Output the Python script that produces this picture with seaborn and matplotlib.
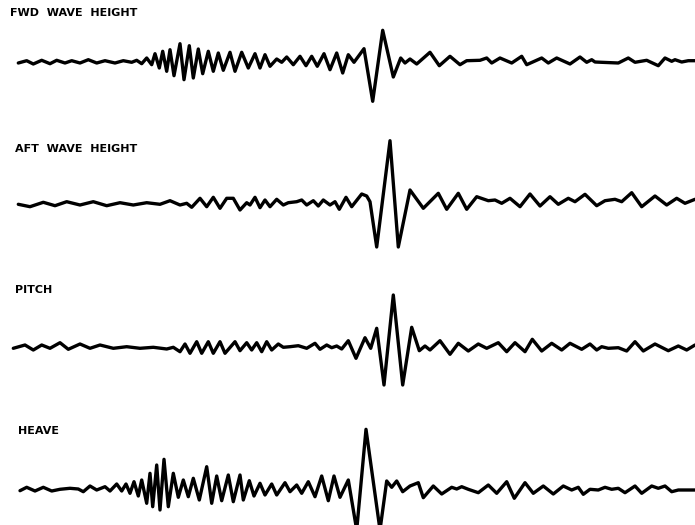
import matplotlib
matplotlib.use("Agg")
import matplotlib.pyplot as plt
import seaborn as sns

# time axis (record position) and trace amplitude at each turning point
fwd_t = [18.3, 26.7, 33.3, 41.7, 50, 56.7, 65, 71.7, 80, 88.3, 96.7, 105, 115, 123.3, 131.7,
         136.7, 141.7, 146.7, 151.7, 155, 159.3, 162.7, 166.7, 170, 174, 180, 184, 189.3,
         193.3, 198.3, 202.7, 208.3, 213.3, 218.3, 223.3, 230, 235, 241.7, 248.3, 255, 260,
         265, 270, 276.7, 281.7, 286.7, 293.3, 300, 306, 311.7, 317.3, 324, 330, 336.7,
         342.7, 348.3, 354, 364, 372.7, 382.7, 393.3, 400.7, 405, 410, 416.7, 430, 439.3,
         450, 460, 466.7, 480, 486.7, 491.7, 500, 511.7, 521.7, 526.7, 541.7, 548.3, 556.7,
         570, 580, 586.7, 591.7, 595, 601.7, 618.3, 628.3, 635, 646.7, 658.3, 665, 671.7,
         675, 681.7, 688.3, 695]
fwd_amp = [0, 2.3, -1, 2.7, -0.7, 2.7, 0, 2.3, 0, 3.3, 0, 2.3, 0, 2.3, 0.7,
           2.7, -0.7, 5, -1.7, 9.3, -5, 11.7, -8.3, 13.3, -12.7, 19.3, -16.7, 17.3,
           -15, 14, -10.7, 11.7, -8.3, 10, -7.3, 10.7, -8.3, 10.7, -5, 9.3, -5,
           8.3, -3.3, 4, 0.7, 6, -1.7, 6.7, -2.7, 6.7, -3.3, 9.3, -6.7, 10,
           -10, 8.3, 0.7, 14.3, -38.3, 32.7, -14, 5, 0, 4, -1, 10.7, -2.7,
           6.7, -1.7, 2.3, 2.7, 5, 0, 5, 0, 6.7, -1.7, 5, 0, 5,
           -1, 6, 0.7, 3.3, 1, 0.7, 0, 5, 0.7, 2.7, -2.7, 5, 1.7,
           3.3, 1, 2.3, 2.3]

aft_t = [18.3, 30, 43.3, 55, 66.7, 80, 93.3, 106.7, 120, 133.3, 146.7, 160, 170, 180,
         186.7, 191.7, 200, 206.7, 213.3, 220, 226.7, 233.3, 240, 246.7, 250, 255, 260,
         265, 270, 276.7, 283.3, 288.3, 296.7, 301.7, 306.7, 313.3, 318.3, 323.3, 330, 335,
         339.3, 346, 351.7, 361.7, 366.7, 370, 376.7, 390, 398.3, 410, 423.3, 438.3, 446.7,
         458.3, 466.7, 476.7, 488.3, 495, 501.7, 510, 520, 530, 540, 550, 558.3, 568.3,
         575, 585, 596.7, 605, 615, 621.7, 631.7, 641.7, 655, 666.7, 676.7, 685, 695]
aft_amp = [0.7, -1.7, 2.7, -0.7, 3.3, 0, 3.3, -0.7, 2.3, 0, 2.3, 0.7, 4.3, 0,
           1.7, -2.3, 6.7, -1.7, 7.7, -3.3, 6.7, 6.7, -5, 2.3, 0, 7.7, -2.7,
           5, -1.7, 5.7, 0, 2.3, 3.3, 5, 0, 4.3, -1, 5, 0, 3.3,
           -4.3, 7.7, -1.7, 11, 9, 3.3, -42, 64.3, -42, 15, -3.3, 11.7, -4.3,
           11.7, -4.3, 8.3, 4.3, 5, 1.7, 6.7, -1.7, 11, -1, 8.3, 0.7, 6.7,
           3.3, 10.7, -0.7, 4.3, 5.7, 3.3, 12.3, -1.7, 9, 0, 6.7, 1.7, 5.7]

pitch_t = [13.3, 25, 33.3, 41.7, 50, 60, 68.3, 80, 90, 100, 113.3, 126.7, 140, 153.3,
           166.7, 173.3, 180, 185, 190, 196.7, 201.7, 208.3, 213.3, 220, 225, 235, 240,
           246.7, 251.7, 256.7, 261.7, 266.7, 271.7, 278.3, 283.3, 290, 298.3, 306.7, 315,
           320, 326.7, 331.7, 336.7, 341.7, 348.3, 356, 365, 370.7, 376.7, 384, 393.3,
           402.7, 411.7, 419.3, 425, 430, 440, 450, 458.3, 468.3, 478.3, 486.7, 498.3,
           506.7, 515, 525, 532.3, 541.7, 551.7, 561.7, 570, 581.7, 590, 596.7, 601.7,
           608.3, 618.3, 626.7, 635, 643.3, 655, 668.3, 678.3, 686.7, 695]
pitch_amp = [-1.3, 2, -3, 2, -1.3, 4.3, -2.3, 3, -1.3, 2, -1.3, 0.3, -1.3, -0.3,
             -2, -0.3, -4.7, 3, -6.3, 5.3, -6.3, 5.3, -6.3, 5.3, -6.3, 5.3, -3.7,
             4.3, -3, 4.3, -4.7, 5.3, -3, 3, -0.3, 0.3, 1.3, -1.3, 3.7,
             -2.3, 2, -0.7, 1, -2, 6.3, -11.3, 9.3, -1.3, 18.7, -38, 52,
             -38, 19.7, -3.7, 1, -3, 6.3, -7.3, 3.7, -4, 3, -1.3, 4.3,
             -4.7, 4.3, -4.7, 7.7, -4, 3.7, -3, 3.7, -2.3, 3, -3, 0.3,
             -1.3, -0.7, -4, 5.3, -4, 3, -3.7, 1, -3, 2]

heave_t = [20, 26.7, 35, 43.3, 51.7, 60, 70, 78.3, 83.3, 90, 96.7, 105, 110, 116.7,
           121.7, 126, 130, 134, 138.3, 141.7, 146.7, 150, 152.7, 156.7, 160, 164, 168.3,
           173.3, 178.3, 183.3, 188.3, 193.3, 199.3, 206.7, 211.7, 216.7, 221.7, 228.3,
           233.3, 240, 243.3, 249.3, 254, 260, 265, 271.7, 276.7, 285, 290, 296.7, 301.7,
           308.3, 315, 321.7, 328.3, 334, 340, 348.3, 356.7, 366, 380, 386.7, 391.7,
           396.7, 402.7, 410, 418.3, 423.3, 433.3, 441.7, 451.7, 456.7, 461.7, 468.3,
           478.3, 488.3, 496.7, 506.7, 514.3, 525, 533.3, 543.3, 553.3, 563.3, 571.7,
           578.3, 583.3, 590, 598.3, 605, 611.7, 618.3, 625, 635, 641.7, 651.7, 658.3,
           665, 671.7, 678.3, 695]
heave_amp = [-0.7, 2.7, -1, 2.7, -1, 0.7, 1.7, 1, -1.7, 4, 0, 3.3, -1, 6,
             -1, 6, -3.3, 8.3, -6, 10, -13.3, 16.7, -16.7, 25, -20, 30.7, -16.7,
             16.7, -7.3, 10, -6.7, 11.7, -10, 23.3, -13.3, 14, -10.7, 15,
             -11.7, 15, -10, 9.3, -6, 6.7, -5, 6, -5, 7.3, -1.7, 5, -3.3,
             8.3, -6.7, 14, -10.7, 14, -7.3, 10, -40, 60.7, -40, 9, 2.7,
             9, -1.7, 4, 7.3, -7.7, 4, -4, 2.7, 1, 3.3, 0.7,
             -2.7, 5, -3.3, 8.3, -8.3, 7.3, -3.3, 4, -4, 4, 0,
             2.7, -4.3, 0.7, 0, 2.7, 0.7, 1.7, -2.7, 4, -3.3, 4, 1.7,
             4, -1.7, 0, 0]

labels = ["FWD  WAVE  HEIGHT", "AFT  WAVE  HEIGHT", "PITCH", "HEAVE"]
series = [(fwd_t, fwd_amp), (aft_t, aft_amp), (pitch_t, pitch_amp), (heave_t, heave_amp)]

# layout in figure pixels
W, H = 695, 525
baselines = [63, 205, 347, 490]
label_pos = [(10, 13), (15, 149), (15, 290), (18, 431)]
band = 70

sns.set_theme(style="white")
plt.rcParams["font.family"] = ["DejaVu Sans"]

fig = plt.figure(figsize=(W / 100, H / 100), dpi=100)
for (t, amp), yb, lab, (lx, ly) in zip(series, baselines, labels, label_pos):
    ax = fig.add_axes([0, 1 - (yb + band) / H, 1, 2 * band / H])
    sns.lineplot(x=t, y=amp, ax=ax, color="black", linewidth=2.4,
                 estimator=None, sort=False)
    for ln in ax.get_lines():
        ln.set_solid_joinstyle("round")
        ln.set_solid_capstyle("round")
    ax.set_xlim(0, W)
    ax.set_ylim(-band, band)
    ax.set_axis_off()
    fig.text(lx / W, 1 - ly / H, lab, fontsize=8, fontweight="bold",
             va="center", ha="left", color="black")

fig.savefig("out.png", dpi=100, facecolor="white")
